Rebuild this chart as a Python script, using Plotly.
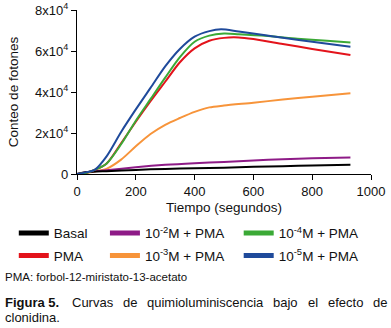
import plotly.graph_objects as go

# Data (time in seconds, photon count)
t_basal = [0, 30, 100, 200, 300, 400, 500, 600, 700, 800, 930]
basal = [0, 800, 1400, 2000, 2500, 2800, 3100, 3500, 3800, 4200, 4500]

t_m2 = [0, 30, 100, 200, 300, 400, 500, 600, 700, 800, 930]
m2 = [0, 900, 1800, 3300, 4500, 5300, 5900, 6600, 7200, 7700, 8100]

t_pma = [0, 30, 60, 100, 150, 200, 250, 300, 350, 400, 450, 500, 550, 600, 700, 800, 930]
pma = [0, 500, 2000, 5000, 15000, 25500, 35500, 45000, 54500, 61300, 65000, 66400, 66600, 65800, 63400, 61000, 58000]

t_m4 = [0, 30, 60, 100, 150, 200, 250, 300, 350, 400, 450, 500, 550, 650, 750, 850, 930]
m4 = [0, 500, 2000, 5000, 14500, 26000, 36500, 47000, 57000, 64500, 67500, 68500, 68200, 67300, 66000, 65000, 64200]

t_m3 = [0, 30, 60, 100, 150, 200, 250, 300, 350, 400, 450, 500, 600, 700, 800, 930]
m3 = [0, 500, 1200, 2500, 7000, 13500, 19500, 24000, 27300, 30300, 32500, 33400, 34800, 36300, 37700, 39400]

t_m5 = [0, 30, 60, 100, 150, 200, 250, 300, 350, 400, 450, 490, 550, 635, 700, 800, 930]
m5 = [0, 800, 2000, 8500, 20500, 31500, 42000, 52500, 61000, 67000, 69700, 70600, 69500, 67800, 66500, 64500, 62100]

series_names = ["Basal", "10<sup>-2</sup>M + PMA", "10<sup>-4</sup>M + PMA",
                "PMA", "10<sup>-3</sup>M + PMA", "10<sup>-5</sup>M + PMA"]
series_t = [t_basal, t_m2, t_m4, t_pma, t_m3, t_m5]
series_y = [basal, m2, m4, pma, m3, m5]
colors = ["#000000", "#8E1B87", "#3BA936", "#E3131B", "#F7943A", "#1F4A9B"]
legend_ids = ["legend", "legend2", "legend3", "legend", "legend2", "legend3"]

y_tickvals = [0, 20000, 40000, 60000, 80000]
y_ticktext = ["0", "2x10<sup>4</sup>", "4x10<sup>4</sup>", "6x10<sup>4</sup>", "8x10<sup>4</sup>"]
x_tickvals = [0, 200, 400, 600, 800, 1000]

font_family = "Liberation Sans, Arial, sans-serif"

fig = go.Figure()
draw_order = [4, 1, 0, 3, 2, 5]
for i in draw_order:
    fig.add_trace(go.Scatter(x=series_t[i], y=series_y[i], mode="lines",
                             line=dict(color=colors[i], width=2, shape="spline", smoothing=0.8),
                             showlegend=False, hoverinfo="skip"))
for i in range(6):
    fig.add_trace(go.Scatter(x=[None], y=[None], mode="lines", name=series_names[i],
                             line=dict(color=colors[i], width=5),
                             legend=legend_ids[i], legendgroup=str(i)))

legend_common = dict(orientation="v", yanchor="top", xanchor="left",
                     font=dict(family=font_family, size=13.5, color="#111111"),
                     bgcolor="rgba(0,0,0,0)", tracegroupgap=2, itemwidth=30)

fig.update_layout(
    width=391, height=328,
    margin=dict(l=77, r=20, t=10, b=154, autoexpand=False),
    plot_bgcolor="white", paper_bgcolor="white",
    font=dict(family=font_family, size=13, color="#111111"),
    xaxis=dict(range=[0, 1000], tickvals=x_tickvals, ticks="outside", ticklen=5,
               tickwidth=1.3, tickcolor="black", showline=True, linecolor="black",
               linewidth=1.3, showgrid=False, zeroline=False, automargin=False,
               tickfont=dict(size=13),
               title=dict(text="Tiempo (segundos)", standoff=4, font=dict(size=13.5))),
    yaxis=dict(range=[0, 80000], tickvals=y_tickvals, ticktext=y_ticktext,
               ticks="outside", ticklen=5, tickwidth=1.3, tickcolor="black",
               showline=True, linecolor="black", linewidth=1.3, showgrid=False,
               zeroline=False, automargin=False, tickfont=dict(size=13),
               title=dict(text="Conteo de fotones", standoff=13, font=dict(size=13.5))),
    legend=dict(x=-0.215, y=-0.267, **legend_common),
    legend2=dict(x=0.095, y=-0.267, **legend_common),
    legend3=dict(x=0.55, y=-0.267, **legend_common),
)

fig.add_annotation(text="PMA: forbol-12-miristato-13-acetato", xref="paper", yref="paper",
                   x=(3 - 77) / 294, y=(174 - 277) / 164, xanchor="left", yanchor="middle",
                   showarrow=False, font=dict(size=11.5, color="#111111"))

# justified caption line: words placed along the full line width
caption_words = ["<b>Figura 5.</b>", "Curvas", "de", "quimioluminiscencia", "bajo", "el", "efecto", "de"]
caption_x = [3, 69.5, 120.5, 145, 271, 305.5, 325.5, 370.5]
for w, px in zip(caption_words, caption_x):
    fig.add_annotation(text=w, xref="paper", yref="paper",
                       x=(px - 77) / 294, y=(174 - 302) / 164, xanchor="left", yanchor="middle",
                       showarrow=False, font=dict(size=13, color="#111111"))
fig.add_annotation(text="clonidina.", xref="paper", yref="paper",
                   x=(3 - 77) / 294, y=(174 - 317) / 164, xanchor="left", yanchor="middle",
                   showarrow=False, font=dict(size=13, color="#111111"))

fig.write_html("out.html", config={"displayModeBar": False},
               post_script="document.body.style.margin='0';document.body.style.overflow='hidden';")
